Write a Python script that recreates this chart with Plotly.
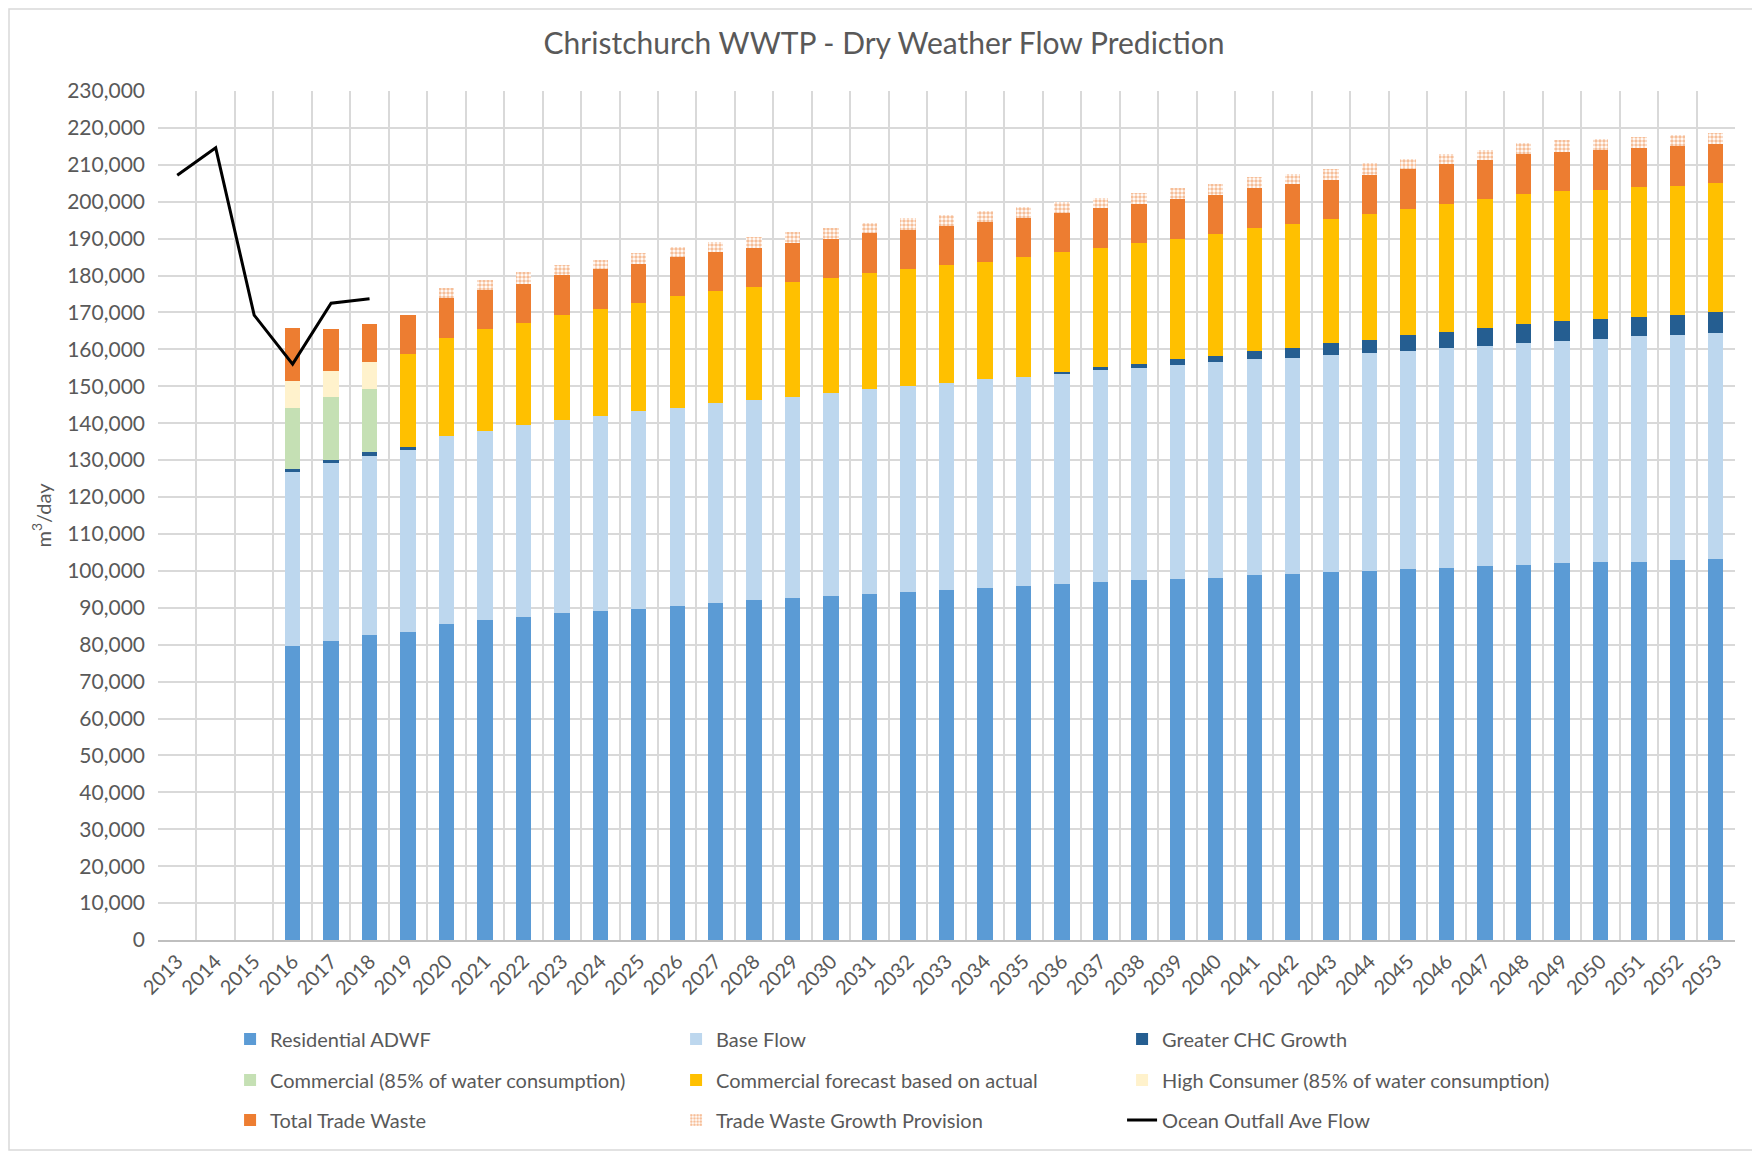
import plotly.graph_objects as go

years = [str(y) for y in range(2013, 2054)]

residential = [None, None, None, 79700, 80900, 82600, 83500, 85700, 86600, 87600, 88500, 89200,
               89700, 90400, 91300, 92000, 92600, 93200, 93600, 94200, 94800, 95400, 96000, 96400,
               97000, 97600, 97900, 98200, 98800, 99200, 99800, 100100, 100500, 100700, 101400,
               101600, 102000, 102300, 102500, 102900, 103200]
base_flow = [None, None, None, 47100, 48200, 48600, 49300, 50900, 51300, 51900, 52500, 52800,
             53600, 53800, 54100, 54300, 54600, 55000, 55600, 55900, 56100, 56500, 56500, 57100,
             57500, 57400, 57800, 58400, 58500, 58600, 58700, 59000, 59200, 59700, 59600, 60000,
             60200, 60600, 61000, 60900, 61200]
chc_growth = [None, None, None, 700, 900, 1100, 700, 0, 0, 0, 0, 0, 0, 0, 0, 0, 0, 0, 0, 0, 0, 0,
              0, 300, 600, 1000, 1600, 1600, 2200, 2600, 3100, 3400, 4100, 4400, 4700, 5300, 5400,
              5400, 5400, 5600, 5700]
commercial_85 = [None, None, None, 16700, 17200, 17100] + [0] * 35
commercial_forecast = [None, None, None, 0, 0, 0, 25200, 26500, 27500, 27700, 28400, 29000, 29200,
                       30200, 30300, 30600, 31000, 31200, 31500, 31600, 31900, 31900, 32500, 32500,
                       32400, 32800, 32700, 33000, 33400, 33600, 33700, 34100, 34300, 34600, 35000,
                       35300, 35300, 35000, 35000, 35000, 35000]
high_consumer = [None, None, None, 7200, 6900, 7200] + [0] * 35
total_trade_waste = [None, None, None, 14300, 11300, 10300, 10700, 10700, 10600, 10600, 10700, 10700,
                     10700, 10700, 10700, 10700, 10700, 10600, 10700, 10700, 10700, 10600, 10700,
                     10700, 10700, 10700, 10700, 10600, 10700, 10700, 10700, 10700, 10700, 10700,
                     10700, 10700, 10700, 10600, 10600, 10600, 10500]
tw_growth_provision = [None, None, None, 0, 0, 0, 0, 2700, 2800, 3100, 2700, 2600, 2800, 2700, 2700,
                       2800, 2800, 2800, 2800, 3100, 2900, 3100, 2800, 2800, 2800, 2900, 3000, 3000,
                       3100, 2800, 2800, 3200, 2700, 2900, 2700, 3100, 3000, 3100, 3100, 3100, 3100]
ocean_outfall = [207200, 214600, 169300, 156000, 172500, 173700] + [None] * 35

FONT = "Lato"
GREY = "#595959"
GRID = "#D9D9D9"

fig = go.Figure()

bar_series = [
    ("Residential ADWF", residential, "#5B9BD5", "legend"),
    ("Base Flow", base_flow, "#BDD7EE", "legend"),
    ("Greater CHC Growth", chc_growth, "#255E91", "legend"),
    ("Commercial (85% of water consumption)", commercial_85, "#C5E0B4", "legend2"),
    ("Commercial forecast based on actual", commercial_forecast, "#FFC000", "legend2"),
    ("High Consumer (85% of water consumption)", high_consumer, "#FFF2CC", "legend2"),
    ("Total Trade Waste", total_trade_waste, "#ED7D31", "legend3"),
]
for name, vals, col, leg in bar_series:
    fig.add_trace(go.Bar(x=years, y=vals, name=name, marker=dict(color=col, line=dict(width=0)),
                         legend=leg))

fig.add_trace(go.Bar(
    x=years, y=tw_growth_provision, name="Trade Waste Growth Provision", legend="legend3",
    marker=dict(color="white", line=dict(width=0),
                pattern=dict(shape=".", fgcolor="#ED7D31", bgcolor="white", size=4, solidity=0.6)),
))

fig.add_trace(go.Scatter(
    x=years, y=ocean_outfall, name="Ocean Outfall Ave Flow", mode="lines", legend="legend3",
    line=dict(color="black", width=3),
))

W, H = 1752, 1144
ml, mr, mt, mb = 150, 25, 83, 212
pw = W - ml - mr
ph = H - mt - mb


def leg(ypix):
    return dict(orientation="h", x=0.0457, xanchor="left", y=(H - mb - ypix) / ph, yanchor="middle",
                entrywidth=401, entrywidthmode="pixels", font=dict(family=FONT, size=20, color=GREY),
                bgcolor="rgba(0,0,0,0)", traceorder="normal")


fig.update_layout(
    width=W, height=H,
    margin=dict(l=ml, r=mr, t=mt, b=mb),
    barmode="stack", bargap=0.6,
    plot_bgcolor="white", paper_bgcolor="white",
    font=dict(family=FONT, color=GREY, size=20),
    title=dict(text="Christchurch WWTP - Dry Weather Flow Prediction", x=0.5, xref="container",
               xanchor="center", y=1 - 35 / H, yref="container", yanchor="middle",
               font=dict(family=FONT, size=30, color=GREY)),
    legend=leg(1031),
    legend2=leg(1072),
    legend3=leg(1112),
    xaxis=dict(type="category", tickson="boundaries", showgrid=True, gridcolor=GRID, gridwidth=2,
               tickangle=-45, tickfont=dict(family=FONT, size=20, color=GREY), ticks="",
               showline=True, linecolor="#BFBFBF", linewidth=2),
    yaxis=dict(range=[0, 230000], dtick=10000, tickformat=",", showgrid=True, gridcolor=GRID,
               gridwidth=2, tickfont=dict(family=FONT, size=21, color=GREY), ticks="",
               ticklabelstandoff=12, zeroline=False,
               title=dict(text="m<sup>3</sup>/day", font=dict(family=FONT, size=20, color=GREY),
                          standoff=10)),
    shapes=[dict(type="rect", xref="paper", yref="paper",
                 x0=(1 - ml) / pw, x1=(W - 2 - ml) / pw,
                 y0=(-mb + 2) / ph, y1=(H - mb - 1) / ph,
                 line=dict(color=GRID, width=1.5), fillcolor="rgba(0,0,0,0)", layer="below")],
)

fig.write_html("out.html")
